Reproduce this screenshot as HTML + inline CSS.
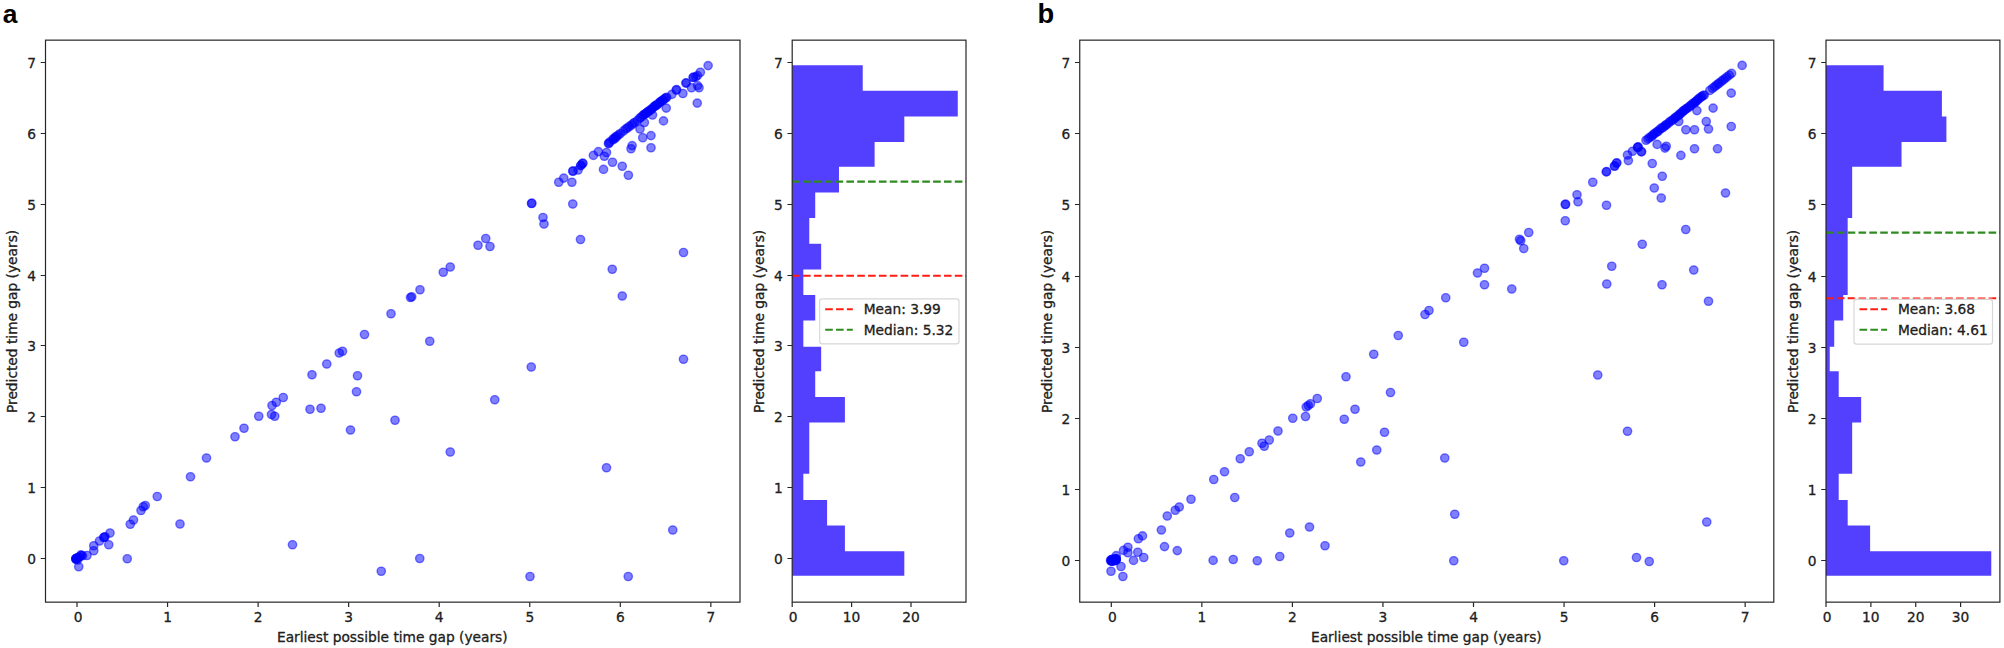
<!DOCTYPE html>
<html lang="en">
<head>
<meta charset="utf-8">
<title>Predicted vs earliest possible time gap</title>
<style>
html,body{margin:0;padding:0;background:#fff;}
body{width:2004px;height:648px;overflow:hidden;}
svg{display:block;}
</style>
</head>
<body>
<svg width="2004" height="648" viewBox="0 0 2004 648" font-family="'DejaVu Sans', 'Liberation Sans', sans-serif" font-size="13.75" fill="#202020" stroke="#202020" stroke-width="0.3">
<rect width="2004" height="648" fill="#fff" stroke="none"/>
<text x="2.7" y="23.0" font-family="'Liberation Sans', sans-serif" font-weight="bold" font-size="26.4" fill="#000" stroke="none">a</text>
<text x="1037.4" y="23.0" font-family="'Liberation Sans', sans-serif" font-weight="bold" font-size="27.3" fill="#000" stroke="none">b</text>
<g fill="#0000ff" fill-opacity="0.5" stroke="#0000ff" stroke-opacity="0.5" stroke-width="1.39">
<circle cx="75.75" cy="558.75" r="4.17"/>
<circle cx="77" cy="558" r="4.17"/>
<circle cx="78" cy="557.5" r="4.17"/>
<circle cx="79.25" cy="557" r="4.17"/>
<circle cx="81.25" cy="555.5" r="4.17"/>
<circle cx="82.5" cy="555.75" r="4.17"/>
<circle cx="77.5" cy="560" r="4.17"/>
<circle cx="78.75" cy="566.75" r="4.17"/>
<circle cx="87" cy="555.5" r="4.17"/>
<circle cx="93.75" cy="550.75" r="4.17"/>
<circle cx="93.75" cy="545.75" r="4.17"/>
<circle cx="99.5" cy="541" r="4.17"/>
<circle cx="103.75" cy="537.5" r="4.17"/>
<circle cx="105" cy="536.75" r="4.17"/>
<circle cx="104.25" cy="537.25" r="4.17"/>
<circle cx="110" cy="533" r="4.17"/>
<circle cx="108.75" cy="544.75" r="4.17"/>
<circle cx="127.25" cy="558.75" r="4.17"/>
<circle cx="130.25" cy="524.25" r="4.17"/>
<circle cx="133.5" cy="520" r="4.17"/>
<circle cx="141" cy="510.5" r="4.17"/>
<circle cx="143.25" cy="506.75" r="4.17"/>
<circle cx="145.25" cy="505.5" r="4.17"/>
<circle cx="157.25" cy="496.5" r="4.17"/>
<circle cx="180" cy="524" r="4.17"/>
<circle cx="190.5" cy="476.75" r="4.17"/>
<circle cx="206.5" cy="458" r="4.17"/>
<circle cx="292.5" cy="544.75" r="4.17"/>
<circle cx="381.25" cy="571.25" r="4.17"/>
<circle cx="419.75" cy="558.5" r="4.17"/>
<circle cx="450.25" cy="452" r="4.17"/>
<circle cx="530" cy="576.5" r="4.17"/>
<circle cx="628.25" cy="576.5" r="4.17"/>
<circle cx="606.5" cy="467.75" r="4.17"/>
<circle cx="672.75" cy="530" r="4.17"/>
<circle cx="235" cy="436.75" r="4.17"/>
<circle cx="244" cy="428.25" r="4.17"/>
<circle cx="258.75" cy="416.25" r="4.17"/>
<circle cx="271.5" cy="414.5" r="4.17"/>
<circle cx="274.75" cy="416.25" r="4.17"/>
<circle cx="272" cy="405.5" r="4.17"/>
<circle cx="276.25" cy="402.25" r="4.17"/>
<circle cx="283.25" cy="397.5" r="4.17"/>
<circle cx="310" cy="409.25" r="4.17"/>
<circle cx="321" cy="408.25" r="4.17"/>
<circle cx="312" cy="374.75" r="4.17"/>
<circle cx="326.75" cy="364" r="4.17"/>
<circle cx="339.25" cy="353" r="4.17"/>
<circle cx="342.5" cy="351.25" r="4.17"/>
<circle cx="364.5" cy="334.5" r="4.17"/>
<circle cx="357.5" cy="375.75" r="4.17"/>
<circle cx="356.5" cy="391.75" r="4.17"/>
<circle cx="350.5" cy="430" r="4.17"/>
<circle cx="395" cy="420.25" r="4.17"/>
<circle cx="391" cy="313.75" r="4.17"/>
<circle cx="410.5" cy="297.5" r="4.17"/>
<circle cx="411.75" cy="296.75" r="4.17"/>
<circle cx="420" cy="289.75" r="4.17"/>
<circle cx="429.75" cy="341.25" r="4.17"/>
<circle cx="531.25" cy="367" r="4.17"/>
<circle cx="494.75" cy="399.75" r="4.17"/>
<circle cx="622.25" cy="296" r="4.17"/>
<circle cx="580.5" cy="239.5" r="4.17"/>
<circle cx="612.25" cy="269.25" r="4.17"/>
<circle cx="683.5" cy="252.5" r="4.17"/>
<circle cx="683.5" cy="359.25" r="4.17"/>
<circle cx="443.25" cy="272.25" r="4.17"/>
<circle cx="450.25" cy="267" r="4.17"/>
<circle cx="478" cy="245.25" r="4.17"/>
<circle cx="485.75" cy="238.5" r="4.17"/>
<circle cx="490" cy="246.5" r="4.17"/>
<circle cx="531.5" cy="203.5" r="4.17"/>
<circle cx="531.85" cy="203.2" r="4.17"/>
<circle cx="543" cy="217.5" r="4.17"/>
<circle cx="544" cy="224" r="4.17"/>
<circle cx="572.75" cy="204" r="4.17"/>
<circle cx="558.75" cy="182.25" r="4.17"/>
<circle cx="563.75" cy="178.12" r="4.17"/>
<circle cx="571.88" cy="182.25" r="4.17"/>
<circle cx="572.75" cy="171.25" r="4.17"/>
<circle cx="573.1" cy="170.95" r="4.17"/>
<circle cx="578.12" cy="170" r="4.17"/>
<circle cx="580.62" cy="165.62" r="4.17"/>
<circle cx="580.98" cy="165.32" r="4.17"/>
<circle cx="582.5" cy="163.5" r="4.17"/>
<circle cx="582.85" cy="163.2" r="4.17"/>
<circle cx="593.38" cy="155.38" r="4.17"/>
<circle cx="598.38" cy="151.62" r="4.17"/>
<circle cx="603.5" cy="169.38" r="4.17"/>
<circle cx="604.38" cy="156.25" r="4.17"/>
<circle cx="606.5" cy="152.5" r="4.17"/>
<circle cx="612.5" cy="162.25" r="4.17"/>
<circle cx="608.5" cy="143.5" r="4.17"/>
<circle cx="608.85" cy="143.2" r="4.17"/>
<circle cx="613.12" cy="139.75" r="4.17"/>
<circle cx="615.25" cy="138.25" r="4.17"/>
<circle cx="622.25" cy="166.25" r="4.17"/>
<circle cx="628.38" cy="175.25" r="4.17"/>
<circle cx="631" cy="148.75" r="4.17"/>
<circle cx="632.12" cy="145.62" r="4.17"/>
<circle cx="642.75" cy="137.75" r="4.17"/>
<circle cx="651" cy="135.62" r="4.17"/>
<circle cx="651" cy="147.75" r="4.17"/>
<circle cx="708.12" cy="65.62" r="4.17"/>
<circle cx="700.38" cy="72.25" r="4.17"/>
<circle cx="697.5" cy="75.62" r="4.17"/>
<circle cx="693.12" cy="77.5" r="4.17"/>
<circle cx="693.48" cy="77.2" r="4.17"/>
<circle cx="695.62" cy="76.88" r="4.17"/>
<circle cx="685.88" cy="83.12" r="4.17"/>
<circle cx="686.23" cy="82.83" r="4.17"/>
<circle cx="697.5" cy="85.62" r="4.17"/>
<circle cx="699" cy="87.75" r="4.17"/>
<circle cx="691.5" cy="87.75" r="4.17"/>
<circle cx="676.25" cy="90" r="4.17"/>
<circle cx="676.6" cy="89.7" r="4.17"/>
<circle cx="682.88" cy="93.5" r="4.17"/>
<circle cx="671.88" cy="94.38" r="4.17"/>
<circle cx="697.25" cy="103.12" r="4.17"/>
<circle cx="666.25" cy="108.12" r="4.17"/>
<circle cx="663.5" cy="120.88" r="4.17"/>
<circle cx="652.5" cy="115" r="4.17"/>
<circle cx="644.38" cy="122.5" r="4.17"/>
<circle cx="640" cy="129" r="4.17"/>
<circle cx="642.65" cy="115.66" r="4.17"/>
<circle cx="643.99" cy="114.54" r="4.17"/>
<circle cx="645" cy="114.02" r="4.17"/>
<circle cx="645.72" cy="113.58" r="4.17"/>
<circle cx="646.8" cy="112.67" r="4.17"/>
<circle cx="647.92" cy="111.49" r="4.17"/>
<circle cx="649.28" cy="111.08" r="4.17"/>
<circle cx="650.15" cy="109.86" r="4.17"/>
<circle cx="651.63" cy="109.36" r="4.17"/>
<circle cx="652.68" cy="108.04" r="4.17"/>
<circle cx="654.08" cy="106.63" r="4.17"/>
<circle cx="655.08" cy="106.06" r="4.17"/>
<circle cx="655.63" cy="105.48" r="4.17"/>
<circle cx="656.85" cy="105.16" r="4.17"/>
<circle cx="657.85" cy="104.17" r="4.17"/>
<circle cx="659.29" cy="102.85" r="4.17"/>
<circle cx="660.31" cy="101.77" r="4.17"/>
<circle cx="661.03" cy="101.34" r="4.17"/>
<circle cx="662.6" cy="100.31" r="4.17"/>
<circle cx="663.42" cy="99.81" r="4.17"/>
<circle cx="664.62" cy="98.62" r="4.17"/>
<circle cx="665.97" cy="97.92" r="4.17"/>
<circle cx="666.64" cy="97.28" r="4.17"/>
<circle cx="609.89" cy="141.93" r="4.17"/>
<circle cx="613.24" cy="138.78" r="4.17"/>
<circle cx="615.62" cy="136.77" r="4.17"/>
<circle cx="616.85" cy="136.38" r="4.17"/>
<circle cx="618.49" cy="134.85" r="4.17"/>
<circle cx="620.35" cy="133.56" r="4.17"/>
<circle cx="623.4" cy="131.09" r="4.17"/>
<circle cx="625.58" cy="129.15" r="4.17"/>
<circle cx="627.35" cy="128.02" r="4.17"/>
<circle cx="629.21" cy="126.45" r="4.17"/>
<circle cx="631.6" cy="125.02" r="4.17"/>
<circle cx="633.1" cy="123.59" r="4.17"/>
<circle cx="634.54" cy="122.5" r="4.17"/>
<circle cx="637.39" cy="120.53" r="4.17"/>
<circle cx="639.66" cy="118.12" r="4.17"/>
<circle cx="641.06" cy="117.37" r="4.17"/>
<circle cx="75.89" cy="558.72" r="4.17"/>
<circle cx="76.09" cy="559.21" r="4.17"/>
<circle cx="76.36" cy="558.55" r="4.17"/>
<circle cx="80.89" cy="554.97" r="4.17"/>
</g>
<rect x="45.5" y="40.15" width="694.5" height="562" fill="none" stroke="#262626" stroke-width="1.2"/>
<text x="36.1" y="563.5" text-anchor="end">0</text>
<text x="36.1" y="492.5" text-anchor="end">1</text>
<text x="36.1" y="421.5" text-anchor="end">2</text>
<text x="36.1" y="350.5" text-anchor="end">3</text>
<text x="36.1" y="280.5" text-anchor="end">4</text>
<text x="36.1" y="209.5" text-anchor="end">5</text>
<text x="36.1" y="138.5" text-anchor="end">6</text>
<text x="36.1" y="67.5" text-anchor="end">7</text>
<path d="M40.7 558.5h4.8M40.7 487.5h4.8M40.7 416.5h4.8M40.7 345.5h4.8M40.7 275.5h4.8M40.7 204.5h4.8M40.7 133.5h4.8M40.7 62.5h4.8" stroke="#262626" stroke-width="1.2" fill="none"/>
<text x="78" y="622.2" text-anchor="middle">0</text>
<text x="167.55" y="622.2" text-anchor="middle">1</text>
<text x="258.1" y="622.2" text-anchor="middle">2</text>
<text x="348.65" y="622.2" text-anchor="middle">3</text>
<text x="439.2" y="622.2" text-anchor="middle">4</text>
<text x="529.75" y="622.2" text-anchor="middle">5</text>
<text x="620.3" y="622.2" text-anchor="middle">6</text>
<text x="710.85" y="622.2" text-anchor="middle">7</text>
<path d="M77 602.15v4.8M167.55 602.15v4.8M258.1 602.15v4.8M348.65 602.15v4.8M439.2 602.15v4.8M529.75 602.15v4.8M620.3 602.15v4.8M710.85 602.15v4.8" stroke="#262626" stroke-width="1.2" fill="none"/>
<text transform="translate(17.4 321.4) rotate(-90)" text-anchor="middle">Predicted time gap (years)</text>
<text x="392.3" y="641.6" text-anchor="middle">Earliest possible time gap (years)</text>
<path d="M792.2 65.25L862.73 65.25L862.73 90.75L957.77 90.75L957.77 116.5L904.31 116.5L904.31 142L874.61 142L874.61 166.75L838.97 166.75L838.97 192.5L815.21 192.5L815.21 218L809.27 218L809.27 243.75L821.15 243.75L821.15 269.5L803.33 269.5L803.33 295L815.21 295L815.21 320.5L803.33 320.5L803.33 346.75L821.15 346.75L821.15 371.25L815.21 371.25L815.21 397L844.91 397L844.91 422.5L809.27 422.5L809.27 448L809.27 448L809.27 473.75L803.33 473.75L803.33 500L827.09 500L827.09 525.5L844.91 525.5L844.91 551.25L904.31 551.25L904.31 575.75L792.2 575.75Z" fill="#5340ff" stroke="none"/>
<line x1="792.2" y1="275.76" x2="966" y2="275.76" stroke="#ff1c10" stroke-width="2.08" stroke-dasharray="7.6 3.24"/>
<line x1="792.2" y1="181.59" x2="966" y2="181.59" stroke="#2e8b1f" stroke-width="2.08" stroke-dasharray="7.6 3.24"/>
<rect x="792.2" y="40.15" width="173.8" height="562" fill="none" stroke="#262626" stroke-width="1.2"/>
<text x="782.8" y="563.5" text-anchor="end">0</text>
<text x="782.8" y="492.5" text-anchor="end">1</text>
<text x="782.8" y="421.5" text-anchor="end">2</text>
<text x="782.8" y="350.5" text-anchor="end">3</text>
<text x="782.8" y="280.5" text-anchor="end">4</text>
<text x="782.8" y="209.5" text-anchor="end">5</text>
<text x="782.8" y="138.5" text-anchor="end">6</text>
<text x="782.8" y="67.5" text-anchor="end">7</text>
<path d="M787.4 558.5h4.8M787.4 487.5h4.8M787.4 416.5h4.8M787.4 345.5h4.8M787.4 275.5h4.8M787.4 204.5h4.8M787.4 133.5h4.8M787.4 62.5h4.8" stroke="#262626" stroke-width="1.2" fill="none"/>
<text x="793.2" y="622.2" text-anchor="middle">0</text>
<text x="851.6" y="622.2" text-anchor="middle">10</text>
<text x="911" y="622.2" text-anchor="middle">20</text>
<path d="M792.2 602.15v4.8M851.6 602.15v4.8M911 602.15v4.8" stroke="#262626" stroke-width="1.2" fill="none"/>
<text transform="translate(763.7 321.4) rotate(-90)" text-anchor="middle">Predicted time gap (years)</text>
<rect x="819.7" y="298.8" width="139.3" height="45.1" rx="2.7" fill="#fff" fill-opacity="0.8" stroke="#cccccc" stroke-opacity="0.8" stroke-width="1.15"/>
<line x1="825.2" y1="309.3" x2="852.8" y2="309.3" stroke="#ff1c10" stroke-width="2.08" stroke-dasharray="7.6 3.24"/>
<line x1="825.2" y1="329.8" x2="852.8" y2="329.8" stroke="#2e8b1f" stroke-width="2.08" stroke-dasharray="7.6 3.24"/>
<text x="863.7" y="314.3">Mean: 3.99</text>
<text x="863.7" y="334.7">Median: 5.32</text>
<g fill="#0000ff" fill-opacity="0.5" stroke="#0000ff" stroke-opacity="0.5" stroke-width="1.39">
<circle cx="1116.25" cy="555.62" r="4.17"/>
<circle cx="1111" cy="571.25" r="4.17"/>
<circle cx="1121" cy="566.5" r="4.17"/>
<circle cx="1122.88" cy="576.5" r="4.17"/>
<circle cx="1133.5" cy="560.38" r="4.17"/>
<circle cx="1143.75" cy="557.5" r="4.17"/>
<circle cx="1137.75" cy="552.25" r="4.17"/>
<circle cx="1127.88" cy="552.75" r="4.17"/>
<circle cx="1123.5" cy="550.38" r="4.17"/>
<circle cx="1127.88" cy="547.25" r="4.17"/>
<circle cx="1138.38" cy="538.75" r="4.17"/>
<circle cx="1142.5" cy="535.88" r="4.17"/>
<circle cx="1161.38" cy="530" r="4.17"/>
<circle cx="1164.5" cy="546.62" r="4.17"/>
<circle cx="1177.25" cy="550.62" r="4.17"/>
<circle cx="1213.12" cy="560.38" r="4.17"/>
<circle cx="1167.25" cy="516" r="4.17"/>
<circle cx="1175.25" cy="510.25" r="4.17"/>
<circle cx="1179.25" cy="507" r="4.17"/>
<circle cx="1191" cy="499.25" r="4.17"/>
<circle cx="1213.75" cy="479.5" r="4.17"/>
<circle cx="1224.5" cy="471.75" r="4.17"/>
<circle cx="1234.75" cy="497.5" r="4.17"/>
<circle cx="1240.25" cy="458.75" r="4.17"/>
<circle cx="1249.25" cy="451.75" r="4.17"/>
<circle cx="1264.25" cy="446.25" r="4.17"/>
<circle cx="1262" cy="443.25" r="4.17"/>
<circle cx="1269.25" cy="440" r="4.17"/>
<circle cx="1233.25" cy="559.5" r="4.17"/>
<circle cx="1257.25" cy="560.75" r="4.17"/>
<circle cx="1279.75" cy="556.5" r="4.17"/>
<circle cx="1289.75" cy="533" r="4.17"/>
<circle cx="1309.5" cy="527" r="4.17"/>
<circle cx="1325" cy="545.75" r="4.17"/>
<circle cx="1360.75" cy="462" r="4.17"/>
<circle cx="1376.75" cy="450" r="4.17"/>
<circle cx="1444.75" cy="458" r="4.17"/>
<circle cx="1454.75" cy="514.25" r="4.17"/>
<circle cx="1453.75" cy="560.75" r="4.17"/>
<circle cx="1563.75" cy="560.75" r="4.17"/>
<circle cx="1636.5" cy="557.5" r="4.17"/>
<circle cx="1649.25" cy="561.5" r="4.17"/>
<circle cx="1706.75" cy="522" r="4.17"/>
<circle cx="1278" cy="431" r="4.17"/>
<circle cx="1292.75" cy="418.25" r="4.17"/>
<circle cx="1305.5" cy="416.5" r="4.17"/>
<circle cx="1306.25" cy="407" r="4.17"/>
<circle cx="1308.25" cy="405.5" r="4.17"/>
<circle cx="1310.5" cy="403.75" r="4.17"/>
<circle cx="1317.25" cy="398.5" r="4.17"/>
<circle cx="1344.25" cy="419.25" r="4.17"/>
<circle cx="1355" cy="409.25" r="4.17"/>
<circle cx="1346" cy="376.75" r="4.17"/>
<circle cx="1373.75" cy="354.25" r="4.17"/>
<circle cx="1390.5" cy="392.5" r="4.17"/>
<circle cx="1384.5" cy="432.25" r="4.17"/>
<circle cx="1398.25" cy="335.5" r="4.17"/>
<circle cx="1425" cy="314.5" r="4.17"/>
<circle cx="1429" cy="310.5" r="4.17"/>
<circle cx="1445.75" cy="297.75" r="4.17"/>
<circle cx="1463.75" cy="342.25" r="4.17"/>
<circle cx="1511.75" cy="289" r="4.17"/>
<circle cx="1597.75" cy="375" r="4.17"/>
<circle cx="1627.5" cy="431.25" r="4.17"/>
<circle cx="1477.5" cy="273" r="4.17"/>
<circle cx="1484.5" cy="268.25" r="4.17"/>
<circle cx="1484.5" cy="284.75" r="4.17"/>
<circle cx="1519.5" cy="239.25" r="4.17"/>
<circle cx="1520.75" cy="240.75" r="4.17"/>
<circle cx="1523.75" cy="248.5" r="4.17"/>
<circle cx="1528.75" cy="232.5" r="4.17"/>
<circle cx="1565.25" cy="204.5" r="4.17"/>
<circle cx="1565.6" cy="204.2" r="4.17"/>
<circle cx="1565.25" cy="220.75" r="4.17"/>
<circle cx="1577" cy="194.75" r="4.17"/>
<circle cx="1578" cy="201.75" r="4.17"/>
<circle cx="1592.75" cy="182.25" r="4.17"/>
<circle cx="1606.5" cy="205.25" r="4.17"/>
<circle cx="1662.25" cy="176.25" r="4.17"/>
<circle cx="1654.25" cy="188" r="4.17"/>
<circle cx="1661.25" cy="198" r="4.17"/>
<circle cx="1642.25" cy="244.25" r="4.17"/>
<circle cx="1611.75" cy="266.25" r="4.17"/>
<circle cx="1606.75" cy="284" r="4.17"/>
<circle cx="1662" cy="284.75" r="4.17"/>
<circle cx="1694.5" cy="148.75" r="4.17"/>
<circle cx="1717.5" cy="148.75" r="4.17"/>
<circle cx="1725.5" cy="193" r="4.17"/>
<circle cx="1685.75" cy="229.5" r="4.17"/>
<circle cx="1693.75" cy="270" r="4.17"/>
<circle cx="1708.5" cy="301.25" r="4.17"/>
<circle cx="1606.25" cy="171.88" r="4.17"/>
<circle cx="1606.6" cy="171.57" r="4.17"/>
<circle cx="1614.38" cy="166.25" r="4.17"/>
<circle cx="1614.72" cy="165.95" r="4.17"/>
<circle cx="1616.5" cy="163.12" r="4.17"/>
<circle cx="1616.85" cy="162.82" r="4.17"/>
<circle cx="1627.5" cy="155" r="4.17"/>
<circle cx="1628.38" cy="160.62" r="4.17"/>
<circle cx="1632.5" cy="151.25" r="4.17"/>
<circle cx="1637.5" cy="147.5" r="4.17"/>
<circle cx="1637.85" cy="147.2" r="4.17"/>
<circle cx="1638.2" cy="146.9" r="4.17"/>
<circle cx="1641.25" cy="151.88" r="4.17"/>
<circle cx="1641.6" cy="151.57" r="4.17"/>
<circle cx="1657.12" cy="144.38" r="4.17"/>
<circle cx="1665" cy="148.12" r="4.17"/>
<circle cx="1666.25" cy="146.25" r="4.17"/>
<circle cx="1652.25" cy="163.5" r="4.17"/>
<circle cx="1680.88" cy="155.38" r="4.17"/>
<circle cx="1685.88" cy="129.75" r="4.17"/>
<circle cx="1694.5" cy="129.75" r="4.17"/>
<circle cx="1678.75" cy="121.5" r="4.17"/>
<circle cx="1706.25" cy="121.5" r="4.17"/>
<circle cx="1708.5" cy="129" r="4.17"/>
<circle cx="1696.88" cy="110.62" r="4.17"/>
<circle cx="1713.12" cy="108.12" r="4.17"/>
<circle cx="1742.12" cy="65.38" r="4.17"/>
<circle cx="1731.25" cy="93.12" r="4.17"/>
<circle cx="1731.25" cy="126.5" r="4.17"/>
<circle cx="1709.84" cy="90.43" r="4.17"/>
<circle cx="1712.55" cy="88.3" r="4.17"/>
<circle cx="1714.36" cy="86.87" r="4.17"/>
<circle cx="1716.17" cy="85.45" r="4.17"/>
<circle cx="1717.98" cy="84.03" r="4.17"/>
<circle cx="1719.34" cy="82.96" r="4.17"/>
<circle cx="1721.61" cy="81.19" r="4.17"/>
<circle cx="1723.42" cy="79.76" r="4.17"/>
<circle cx="1725.23" cy="78.34" r="4.17"/>
<circle cx="1727.04" cy="76.92" r="4.17"/>
<circle cx="1729.3" cy="75.14" r="4.17"/>
<circle cx="1731.57" cy="73.37" r="4.17"/>
<circle cx="1677.55" cy="116.13" r="4.17"/>
<circle cx="1679.02" cy="114.96" r="4.17"/>
<circle cx="1679.78" cy="113.95" r="4.17"/>
<circle cx="1681.09" cy="113.35" r="4.17"/>
<circle cx="1682.84" cy="111.31" r="4.17"/>
<circle cx="1683.4" cy="110.94" r="4.17"/>
<circle cx="1684.69" cy="110.16" r="4.17"/>
<circle cx="1686.23" cy="108.75" r="4.17"/>
<circle cx="1686.96" cy="108.32" r="4.17"/>
<circle cx="1688.51" cy="107.23" r="4.17"/>
<circle cx="1690.25" cy="105.98" r="4.17"/>
<circle cx="1691.11" cy="105.24" r="4.17"/>
<circle cx="1692.49" cy="103.65" r="4.17"/>
<circle cx="1693.91" cy="103.18" r="4.17"/>
<circle cx="1695.13" cy="102.24" r="4.17"/>
<circle cx="1695.95" cy="101.24" r="4.17"/>
<circle cx="1696.93" cy="100.68" r="4.17"/>
<circle cx="1698.13" cy="99.23" r="4.17"/>
<circle cx="1699.5" cy="98.24" r="4.17"/>
<circle cx="1700.84" cy="97.09" r="4.17"/>
<circle cx="1701.79" cy="96.44" r="4.17"/>
<circle cx="1703.11" cy="95.59" r="4.17"/>
<circle cx="1704.28" cy="95.13" r="4.17"/>
<circle cx="1646" cy="140.24" r="4.17"/>
<circle cx="1647.95" cy="138.88" r="4.17"/>
<circle cx="1649.54" cy="137.44" r="4.17"/>
<circle cx="1651.51" cy="136.67" r="4.17"/>
<circle cx="1652.58" cy="135.37" r="4.17"/>
<circle cx="1653.66" cy="134.18" r="4.17"/>
<circle cx="1655.4" cy="132.96" r="4.17"/>
<circle cx="1657.37" cy="131.32" r="4.17"/>
<circle cx="1658.01" cy="131.53" r="4.17"/>
<circle cx="1660" cy="129.24" r="4.17"/>
<circle cx="1661.49" cy="127.97" r="4.17"/>
<circle cx="1662.94" cy="127.68" r="4.17"/>
<circle cx="1664.76" cy="126" r="4.17"/>
<circle cx="1665.61" cy="125.04" r="4.17"/>
<circle cx="1666.98" cy="124.32" r="4.17"/>
<circle cx="1668.83" cy="122.88" r="4.17"/>
<circle cx="1670.09" cy="121.39" r="4.17"/>
<circle cx="1672.06" cy="120.53" r="4.17"/>
<circle cx="1673.57" cy="119.18" r="4.17"/>
<circle cx="1675.01" cy="117.99" r="4.17"/>
<circle cx="1675.87" cy="117.11" r="4.17"/>
<circle cx="1112.53" cy="559.18" r="4.17"/>
<circle cx="1110.57" cy="560.22" r="4.17"/>
<circle cx="1111.96" cy="560.78" r="4.17"/>
<circle cx="1116.14" cy="559.2" r="4.17"/>
<circle cx="1116.02" cy="560.42" r="4.17"/>
<circle cx="1116.13" cy="559.02" r="4.17"/>
<circle cx="1111.72" cy="559.82" r="4.17"/>
<circle cx="1111.58" cy="559.8" r="4.17"/>
<circle cx="1114.14" cy="560.69" r="4.17"/>
<circle cx="1115.44" cy="559.44" r="4.17"/>
<circle cx="1114.32" cy="560.43" r="4.17"/>
<circle cx="1110.91" cy="560.98" r="4.17"/>
<circle cx="1115.86" cy="560.01" r="4.17"/>
<circle cx="1114.9" cy="559.58" r="4.17"/>
<circle cx="1111.47" cy="561.12" r="4.17"/>
<circle cx="1112.4" cy="560.91" r="4.17"/>
<circle cx="1116.23" cy="559.06" r="4.17"/>
<circle cx="1112.81" cy="561.13" r="4.17"/>
<circle cx="1114.75" cy="558.94" r="4.17"/>
</g>
<rect x="1079.75" y="40.15" width="694.05" height="562" fill="none" stroke="#262626" stroke-width="1.2"/>
<text x="1070.35" y="565.5" text-anchor="end">0</text>
<text x="1070.35" y="494.5" text-anchor="end">1</text>
<text x="1070.35" y="423.5" text-anchor="end">2</text>
<text x="1070.35" y="352.5" text-anchor="end">3</text>
<text x="1070.35" y="281.5" text-anchor="end">4</text>
<text x="1070.35" y="209.5" text-anchor="end">5</text>
<text x="1070.35" y="138.5" text-anchor="end">6</text>
<text x="1070.35" y="67.5" text-anchor="end">7</text>
<path d="M1074.95 560.5h4.8M1074.95 489.5h4.8M1074.95 418.5h4.8M1074.95 347.5h4.8M1074.95 276.5h4.8M1074.95 204.5h4.8M1074.95 133.5h4.8M1074.95 62.5h4.8" stroke="#262626" stroke-width="1.2" fill="none"/>
<text x="1112.3" y="622.2" text-anchor="middle">0</text>
<text x="1201.85" y="622.2" text-anchor="middle">1</text>
<text x="1292.4" y="622.2" text-anchor="middle">2</text>
<text x="1382.95" y="622.2" text-anchor="middle">3</text>
<text x="1473.5" y="622.2" text-anchor="middle">4</text>
<text x="1564.05" y="622.2" text-anchor="middle">5</text>
<text x="1654.6" y="622.2" text-anchor="middle">6</text>
<text x="1745.15" y="622.2" text-anchor="middle">7</text>
<path d="M1111.3 602.15v4.8M1201.85 602.15v4.8M1292.4 602.15v4.8M1382.95 602.15v4.8M1473.5 602.15v4.8M1564.05 602.15v4.8M1654.6 602.15v4.8M1745.15 602.15v4.8" stroke="#262626" stroke-width="1.2" fill="none"/>
<text transform="translate(1051.5 321.4) rotate(-90)" text-anchor="middle">Predicted time gap (years)</text>
<text x="1426.33" y="641.6" text-anchor="middle">Earliest possible time gap (years)</text>
<path d="M1826 65.25L1883.58 65.25L1883.58 90.75L1941.91 90.75L1941.91 116.5L1946.4 116.5L1946.4 142L1901.53 142L1901.53 166.75L1852.17 166.75L1852.17 192.5L1852.17 192.5L1852.17 218L1847.68 218L1847.68 243.75L1847.68 243.75L1847.68 269.5L1847.68 269.5L1847.68 295L1843.2 295L1843.2 320.5L1834.22 320.5L1834.22 346.75L1829.74 346.75L1829.74 371.25L1838.71 371.25L1838.71 397L1861.15 397L1861.15 422.5L1852.17 422.5L1852.17 448L1852.17 448L1852.17 473.75L1838.71 473.75L1838.71 500L1847.68 500L1847.68 525.5L1870.12 525.5L1870.12 551.25L1991.27 551.25L1991.27 575.75L1826 575.75Z" fill="#5340ff" stroke="none"/>
<line x1="1826" y1="298.25" x2="1999.9" y2="298.25" stroke="#ff1c10" stroke-width="2.08" stroke-dasharray="7.6 3.24"/>
<line x1="1826" y1="232.63" x2="1999.9" y2="232.63" stroke="#2e8b1f" stroke-width="2.08" stroke-dasharray="7.6 3.24"/>
<rect x="1826" y="40.15" width="173.9" height="562" fill="none" stroke="#262626" stroke-width="1.2"/>
<text x="1816.6" y="565.5" text-anchor="end">0</text>
<text x="1816.6" y="494.5" text-anchor="end">1</text>
<text x="1816.6" y="423.5" text-anchor="end">2</text>
<text x="1816.6" y="352.5" text-anchor="end">3</text>
<text x="1816.6" y="281.5" text-anchor="end">4</text>
<text x="1816.6" y="209.5" text-anchor="end">5</text>
<text x="1816.6" y="138.5" text-anchor="end">6</text>
<text x="1816.6" y="67.5" text-anchor="end">7</text>
<path d="M1821.2 560.5h4.8M1821.2 489.5h4.8M1821.2 418.5h4.8M1821.2 347.5h4.8M1821.2 276.5h4.8M1821.2 204.5h4.8M1821.2 133.5h4.8M1821.2 62.5h4.8" stroke="#262626" stroke-width="1.2" fill="none"/>
<text x="1827" y="622.2" text-anchor="middle">0</text>
<text x="1870.87" y="622.2" text-anchor="middle">10</text>
<text x="1915.74" y="622.2" text-anchor="middle">20</text>
<text x="1960.61" y="622.2" text-anchor="middle">30</text>
<path d="M1826 602.15v4.8M1870.87 602.15v4.8M1915.74 602.15v4.8M1960.61 602.15v4.8" stroke="#262626" stroke-width="1.2" fill="none"/>
<text transform="translate(1798 321.4) rotate(-90)" text-anchor="middle">Predicted time gap (years)</text>
<rect x="1854" y="296.6" width="138.4" height="3.4" fill="#fff" fill-opacity="0.32" stroke="none"/>
<rect x="1854" y="299.3" width="138.5" height="44.8" rx="2.7" fill="#fff" fill-opacity="0.8" stroke="#cccccc" stroke-opacity="0.8" stroke-width="1.15"/>
<line x1="1859.5" y1="309.2" x2="1887.1" y2="309.2" stroke="#ff1c10" stroke-width="2.08" stroke-dasharray="7.6 3.24"/>
<line x1="1859.5" y1="329.8" x2="1887.1" y2="329.8" stroke="#2e8b1f" stroke-width="2.08" stroke-dasharray="7.6 3.24"/>
<text x="1898" y="314.2">Mean: 3.68</text>
<text x="1898" y="334.6">Median: 4.61</text>
</svg>
</body>
</html>
